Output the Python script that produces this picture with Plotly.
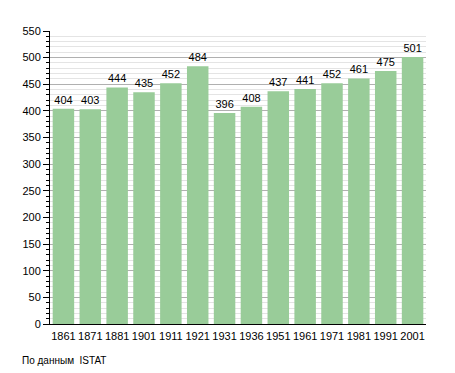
import plotly.graph_objects as go

years = ["1861", "1871", "1881", "1901", "1911", "1921", "1931", "1936",
         "1951", "1961", "1971", "1981", "1991", "2001"]
population = [404, 403, 444, 435, 452, 484, 396, 408, 437, 441, 452, 461, 475, 501]
y_ticks = list(range(0, 551, 50))
source_note = "По данным  ISTAT"

fig = go.Figure(go.Bar(
    x=years, y=population,
    marker=dict(color="#99cc99", line=dict(width=0)),
    text=[str(v) for v in population], textposition="outside",
    textfont=dict(size=11, color="#000000", family="Liberation Sans, Arial, sans-serif"),
    cliponaxis=False,
))

fig.update_layout(
    width=447, height=365,
    margin=dict(l=42, r=29, t=23, b=49),
    plot_bgcolor="white", paper_bgcolor="white",
    font=dict(family="Liberation Sans, Arial, sans-serif", size=11, color="#000000"),
    bargap=0.2,
    showlegend=False,
    xaxis=dict(
        type="category", showgrid=False, showline=True, linecolor="black", linewidth=1,
        ticks="", tickfont=dict(size=11), ticklabelstandoff=2,
    ),
    yaxis=dict(
        range=[0, 550], tickvals=y_ticks, showline=True, linecolor="black", linewidth=1,
        ticks="outside", ticklen=6, tickcolor="black", tickwidth=1,
        gridcolor="#b0b0b0", gridwidth=1,
        minor=dict(dtick=10, ticks="outside", ticklen=3, tickcolor="black",
                   showgrid=True, gridcolor="#e4e4e4", gridwidth=1),
        tickfont=dict(size=11), zeroline=False,
    ),
    annotations=[dict(
        text=source_note, xref="paper", yref="paper", x=-0.08, y=-0.126,
        xanchor="left", yanchor="middle", showarrow=False,
        font=dict(size=10, color="#000000"),
    )],
)

fig.write_html("out.html")
